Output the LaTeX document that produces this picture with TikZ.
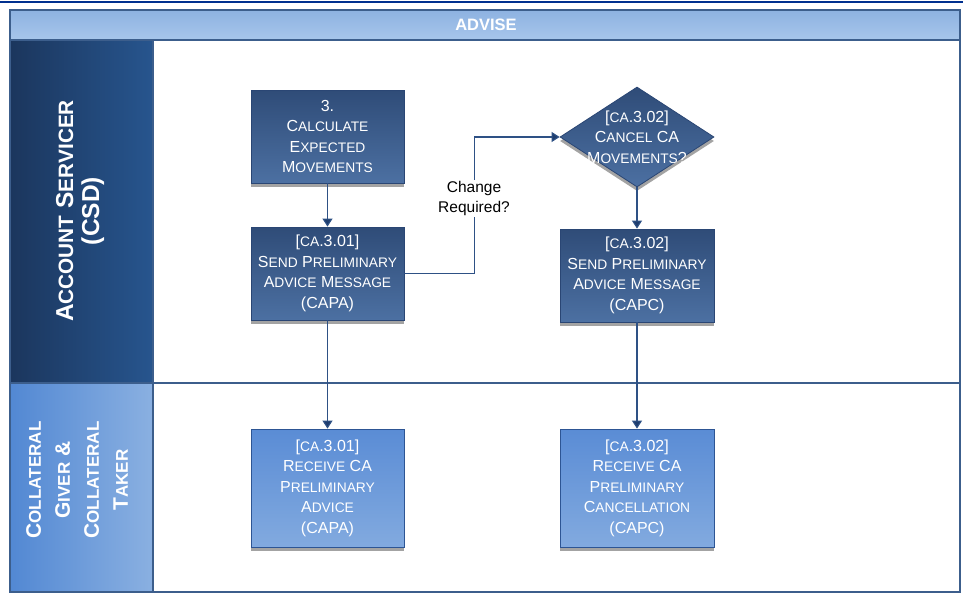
\documentclass[tikz,border=0pt]{standalone}
\usepackage{fontspec}
\setmainfont{Liberation Sans}
\usetikzlibrary{arrows.meta,shapes.geometric,shadows}

\definecolor{rulecol}{HTML}{00308F}
\definecolor{framecol}{HTML}{3C5E8C}
\definecolor{hdrtop}{HTML}{8DB2E1}
\definecolor{hdrbot}{HTML}{A8C6EB}
\definecolor{laneAl}{HTML}{1B365D}
\definecolor{laneAr}{HTML}{27558E}
\definecolor{laneBl}{HTML}{5288D3}
\definecolor{laneBr}{HTML}{8AB0E1}
\definecolor{darktop}{HTML}{2F4C78}
\definecolor{darkbot}{HTML}{4C70A2}
\definecolor{darkedge}{HTML}{2A4674}
\definecolor{lighttop}{HTML}{5A8CD5}
\definecolor{lightbot}{HTML}{82AADF}
\definecolor{lightedge}{HTML}{2D5594}
\definecolor{flowcol}{HTML}{2E5185}
\definecolor{tipcol}{HTML}{1F3D6E}
\definecolor{shadowcol}{HTML}{A3A3A3}

% small-caps imitation: capital at full size, rest in smaller capitals
\newcommand\sk[1]{{\fontsize{13.8}{20.5}\selectfont #1}}
\newcommand\lk[1]{{\fontsize{20.8}{26}\selectfont #1}}
\newcommand\mk[1]{{\fontsize{17}{29}\selectfont #1}}

\tikzset{
  frame/.style={draw=framecol, line width=1.6pt},
  boxtext/.style={text=white, align=center, font=\fontsize{16}{20.5}\selectfont},
  darkbox/.style={boxtext, rectangle, top color=darktop, bottom color=darkbot,
    draw=darkedge, line width=0.8pt, minimum width=153pt, minimum height=93pt,
    inner sep=0pt, general shadow={fill=shadowcol, shadow yshift=-4pt}},
  lightbox/.style={boxtext, rectangle, top color=lighttop, bottom color=lightbot,
    draw=lightedge, line width=0.8pt, minimum width=153pt, minimum height=118pt,
    inner sep=0pt, general shadow={fill=shadowcol, shadow yshift=-4pt}},
  decision/.style={diamond, top color=darktop, bottom color=darkbot,
    draw=darkedge, line width=0.8pt, minimum width=154pt, minimum height=100pt,
    inner sep=0pt, general shadow={fill=shadowcol, shadow yshift=-4pt}},
  flow/.style={draw=flowcol, line width=1.1pt,
    -{Triangle[width=10pt,length=8pt,fill=tipcol]}},
  lanelabel/.style={text=white, align=center, rotate=90, font=\bfseries}
}

\begin{document}
\begin{tikzpicture}[x=1pt,y=-1pt]
\useasboundingbox (0,0) rectangle (963,594);
\fill[white] (0,0) rectangle (963,594);

% top rule
\draw[rulecol, line width=2pt] (0,2) -- (963,2);

% header band and lane label columns
\shade[top color=hdrtop, bottom color=hdrbot] (10,10) rectangle (960,40);
\shade[left color=laneAl, right color=laneAr] (10,40) rectangle (153,383);
\shade[left color=laneBl, right color=laneBr] (10,383) rectangle (153,592);

% pool frame
\draw[frame] (10,10) rectangle (960,592);
\draw[frame] (10,40) -- (960,40);
\draw[frame] (10,383) -- (960,383);
\draw[frame] (153,40) -- (153,592);

\node[text=white, font=\bfseries\fontsize{16.5}{18}\selectfont] (title) at (486,25) {ADVISE};

\node[lanelabel, font=\bfseries\fontsize{24.5}{26}\selectfont] (laneA) at (80,211)
  {A\lk{CCOUNT} S\lk{ERVICER}\\(CSD)};
\node[lanelabel, font=\bfseries\fontsize{21}{29}\selectfont] (laneB) at (77,480)
  {C\mk{OLLATERAL}\\G\mk{IVER} \&\\C\mk{OLLATERAL}\\T\mk{AKER}};

% process steps
\node[darkbox] (calc) at (327.5,136.5)
  {3.\\C\sk{ALCULATE}\\E\sk{XPECTED}\\M\sk{OVEMENTS}};
\node[darkbox] (sendA) at (327.5,273.5)
  {[\sk{CA}.3.01]\\S\sk{END} P\sk{RELIMINARY}\\A\sk{DVICE} M\sk{ESSAGE}\\(CAPA)};
\node[decision] (cancel) at (637,137) {};
\node[boxtext] (canceltxt) at (cancel.center)
  {[\sk{CA}.3.02]\\C\sk{ANCEL} CA\\M\sk{OVEMENTS}?};
\node[darkbox, minimum width=154pt] (sendC) at (637,275.5)
  {[\sk{CA}.3.02]\\S\sk{END} P\sk{RELIMINARY}\\A\sk{DVICE} M\sk{ESSAGE}\\(CAPC)};
\node[lightbox] (recvA) at (327.5,488)
  {[\sk{CA}.3.01]\\R\sk{ECEIVE} CA\\P\sk{RELIMINARY}\\A\sk{DVICE}\\(CAPA)};
\node[lightbox, minimum width=154pt] (recvC) at (637,488)
  {[\sk{CA}.3.02]\\R\sk{ECEIVE} CA\\P\sk{RELIMINARY}\\C\sk{ANCELLATION}\\(CAPC)};

% connectors
\draw[flow] (calc.south) -- (sendA.north);
\draw[flow] (sendA.east) -- ++(70,0) coordinate (bend) |- (cancel.west);
\node[fill=white, align=center, inner sep=1pt, font=\fontsize{15.5}{20.7}\selectfont]
  (change) at (474,198.5) {Change\\Required?};
\draw[flow] (cancel.south) -- (sendC.north);
\draw[flow] (sendA.south) -- (recvA.north);
\draw[flow] (sendC.south) -- (recvC.north);
\end{tikzpicture}
\end{document}
